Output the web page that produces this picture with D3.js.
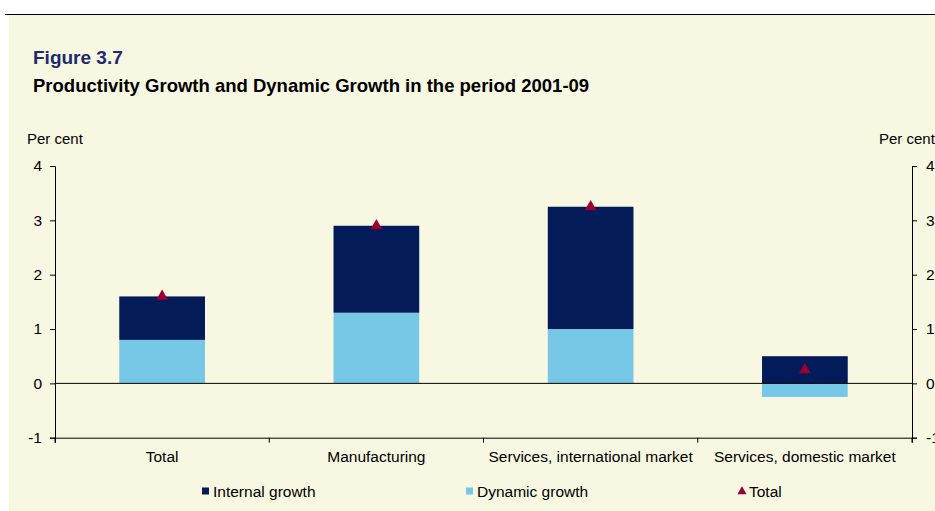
<!DOCTYPE html>
<html>
<head>
<meta charset="utf-8">
<script src="https://cdn.jsdelivr.net/npm/d3@7"></script>
<style>
html,body{margin:0;padding:0;background:#fff;}
svg{display:block;font-family:"Liberation Sans",Arial,sans-serif;}
</style>
</head>
<body>
<svg id="chart" width="935" height="511"></svg>
<script>
const categories = ["Total", "Manufacturing", "Services, international market", "Services, domestic market"];
const internalGrowth = [0.8, 1.6, 2.25, 0.5];
const dynamicGrowth = [0.8, 1.3, 1.0, -0.25];
const totalGrowth = [1.6, 2.9, 3.25, 0.25];
const yTicks = [-1, 0, 1, 2, 3, 4];
const seriesNames = ["Internal growth", "Dynamic growth", "Total"];
const colors = {internal: "#031b59", dynamic: "#76c8e6", total: "#9a0030"};

const svg = d3.select("#chart");
svg.append("rect").attr("x", 0).attr("y", 0).attr("width", 935).attr("height", 511).attr("fill", "#fff");
svg.append("rect").attr("x", 9).attr("y", 15).attr("width", 926).attr("height", 496).attr("fill", "#f8f7e1");
svg.append("line").attr("x1", 5).attr("x2", 935).attr("y1", 14.5).attr("y2", 14.5).attr("stroke", "#000").attr("stroke-width", 1);

svg.append("text").attr("x", 33).attr("y", 64).text("Figure 3.7")
  .attr("font-size", 19).attr("font-weight", "bold").attr("fill", "#1c2a6e");
svg.append("text").attr("x", 33).attr("y", 92).text("Productivity Growth and Dynamic Growth in the period 2001-09")
  .attr("font-size", 18.5).attr("font-weight", "bold").attr("fill", "#000");

const left = 55, right = 912;
const y = d3.scaleLinear().domain([-1, 4]).range([437.7, 166]);
const x = d3.scaleBand().domain(categories).range([left, right]).padding(0);
const barW = x.bandwidth() * 0.4;
const fs = 15.5;

const yAxisL = d3.axisLeft(y).tickValues(yTicks).tickSize(5).tickPadding(8).tickFormat(d => String(d));
const gL = svg.append("g").attr("transform", `translate(${left},0)`).call(yAxisL);
const yAxisR = d3.axisRight(y).tickValues(yTicks).tickSize(5).tickPadding(9).tickFormat(d => String(d));
const gR = svg.append("g").attr("transform", `translate(${right},0)`).call(yAxisR);
[gL, gR].forEach(g => {
  g.select(".domain").attr("stroke", "#000");
  g.selectAll(".tick line").attr("stroke", "#000");
  g.selectAll(".tick text").attr("font-size", fs).attr("fill", "#000").attr("font-family", "Liberation Sans, Arial, sans-serif");
});
svg.append("text").attr("x", 27).attr("y", 144).text("Per cent").attr("font-size", 15).attr("fill", "#000");
svg.append("text").attr("x", 879).attr("y", 144).text("Per cent").attr("font-size", 15).attr("fill", "#000");

const g = svg.append("g");
categories.forEach((c, i) => {
  const cx = x(c) + x.bandwidth() / 2;
  const d = dynamicGrowth[i], n = internalGrowth[i];
  g.append("rect").attr("x", cx - barW / 2).attr("width", barW)
    .attr("y", y(Math.max(0, d))).attr("height", Math.abs(y(d) - y(0)))
    .attr("fill", colors.dynamic);
  const base = Math.max(0, d);
  g.append("rect").attr("x", cx - barW / 2).attr("width", barW)
    .attr("y", y(base + n)).attr("height", y(base) - y(base + n))
    .attr("fill", colors.internal);
});

svg.append("line").attr("x1", left).attr("x2", right).attr("y1", y(0)).attr("y2", y(0)).attr("stroke", "#000");
const xAxis = d3.axisBottom(x).tickSize(5).tickFormat("");
const gX = svg.append("g").attr("transform", `translate(0,${y(-1)})`).call(xAxis);
gX.select(".domain").attr("stroke", "#000");
gX.selectAll(".tick").remove();
const edges = categories.map(c => x(c)).concat([right]);
gX.selectAll("line.edge").data(edges).enter().append("line").attr("class", "edge")
  .attr("x1", d => d).attr("x2", d => d).attr("y1", 0).attr("y2", 5).attr("stroke", "#000");
gX.selectAll("text.cat").data(categories).enter().append("text").attr("class", "cat")
  .attr("x", d => x(d) + x.bandwidth() / 2).attr("y", 24).attr("text-anchor", "middle")
  .attr("font-size", fs).attr("fill", "#000").text(d => d);

const tri = d3.symbol().type(d3.symbolTriangle).size(60);
g.selectAll("path.tot").data(categories).enter().append("path").attr("class", "tot")
  .attr("d", tri).attr("fill", colors.total)
  .attr("transform", (c, i) => `translate(${x(c) + x.bandwidth() / 2},${y(totalGrowth[i])})`);

const leg = svg.append("g");
const legItems = [
  {name: seriesNames[0], x: 202, type: "rect", color: colors.internal},
  {name: seriesNames[1], x: 466, type: "rect", color: colors.dynamic},
  {name: seriesNames[2], x: 738, type: "tri", color: colors.total}
];
legItems.forEach(it => {
  if (it.type === "rect") {
    leg.append("rect").attr("x", it.x).attr("y", 487.5).attr("width", 7).attr("height", 7).attr("fill", it.color);
  } else {
    leg.append("path").attr("d", d3.symbol().type(d3.symbolTriangle).size(36)).attr("fill", it.color)
      .attr("transform", `translate(${it.x + 4},${491.5})`);
  }
  leg.append("text").attr("x", it.x + 11).attr("y", 497).attr("font-size", fs).attr("fill", "#000").text(it.name);
});
</script>
</body>
</html>
